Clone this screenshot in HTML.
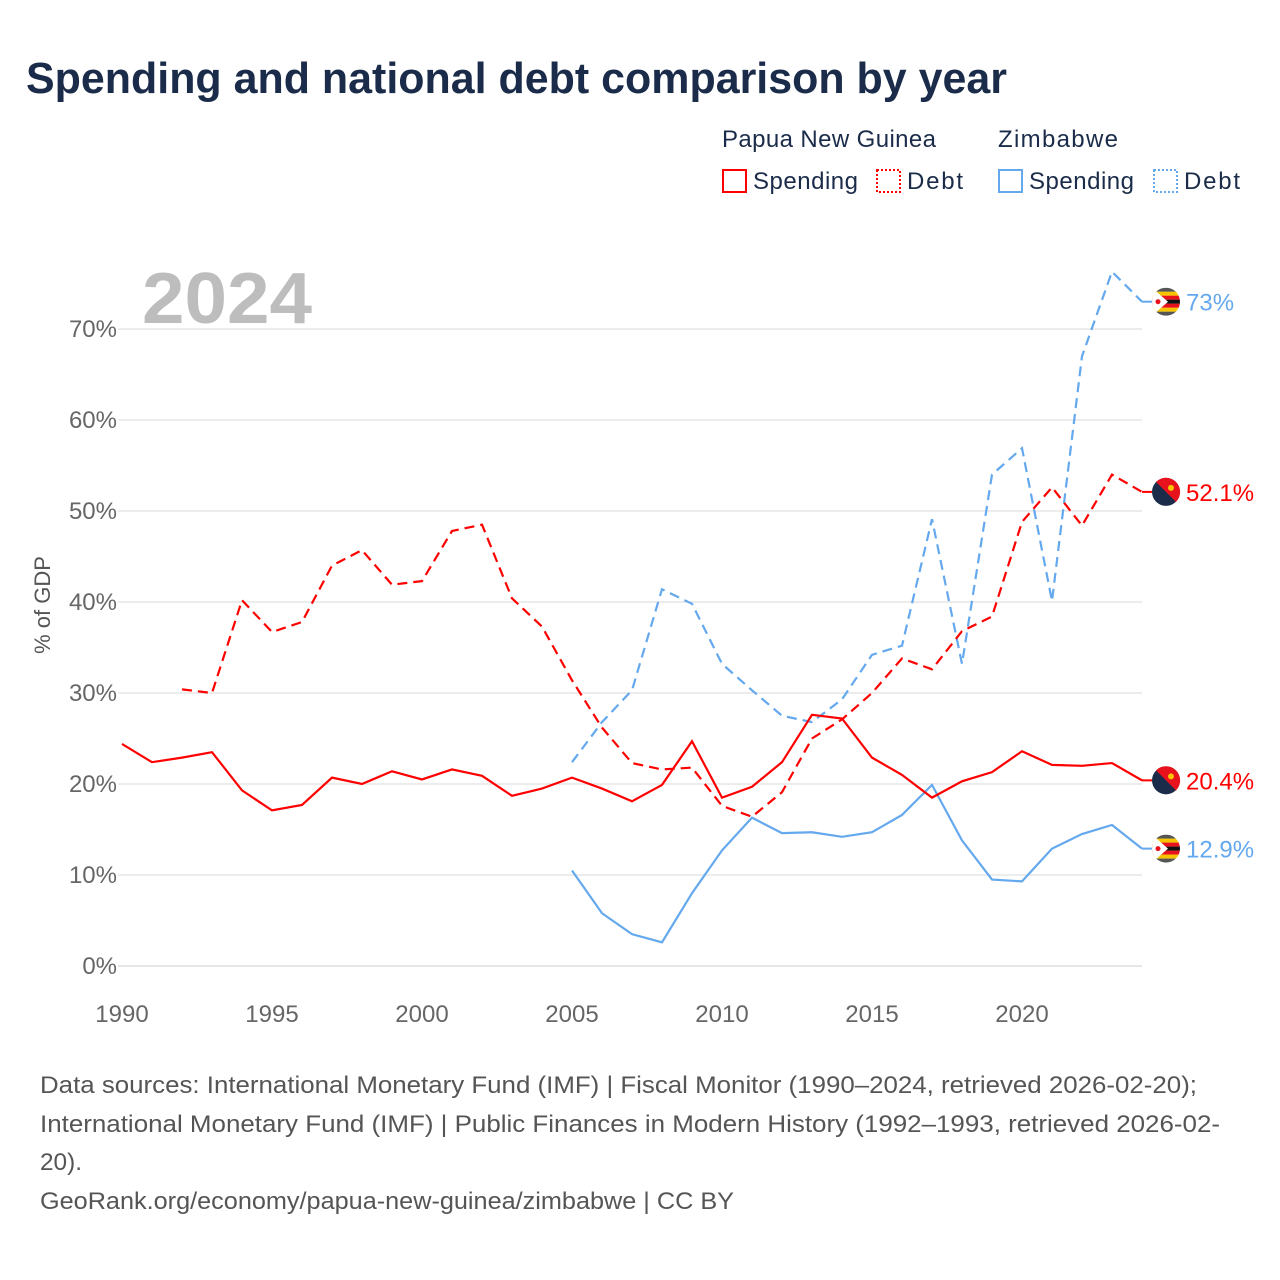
<!DOCTYPE html>
<html><head><meta charset="utf-8">
<style>
body{margin:0;background:#fff;font-family:"Liberation Sans",sans-serif;}
#wrap{position:relative;width:1280px;height:1280px;overflow:hidden;}
</style></head>
<body>
<div id="wrap">
<svg id="chart" width="1280" height="1280" xmlns="http://www.w3.org/2000/svg">
<text x="26" y="93" font-size="44" font-weight="bold" fill="#1b2c4a" textLength="981" lengthAdjust="spacingAndGlyphs">Spending and national debt comparison by year</text>
<g font-size="24" fill="#1b2c4a">
<text x="722" y="147" textLength="214">Papua New Guinea</text>
<text x="998" y="147" textLength="120">Zimbabwe</text>
<g><rect x="723" y="170" width="23" height="22" fill="none" stroke="#f00" stroke-width="2"/><text x="753" y="189" textLength="105">Spending</text></g>
<g><rect x="877" y="170" width="23" height="22" fill="none" stroke="#f00" stroke-width="2" stroke-dasharray="2,2"/><text x="907" y="189" textLength="56">Debt</text></g>
<g><rect x="999" y="170" width="23" height="22" fill="none" stroke="#64a8ee" stroke-width="2"/><text x="1029" y="189" textLength="105">Spending</text></g>
<g><rect x="1154" y="170" width="23" height="22" fill="none" stroke="#64a8ee" stroke-width="2" stroke-dasharray="2,2"/><text x="1184" y="189" textLength="56">Debt</text></g>
</g>
<text x="142" y="323" font-size="72" font-weight="bold" fill="#bdbdbd" textLength="170" lengthAdjust="spacingAndGlyphs">2024</text>
<text transform="translate(50,605) rotate(-90)" text-anchor="middle" font-size="22" fill="#555">% of GDP</text>
<g id="grid"></g><g id="series"></g><g id="ends"></g>
<g font-size="24" fill="#555">
<text x="40" y="1093" textLength="1157" lengthAdjust="spacingAndGlyphs">Data sources: International Monetary Fund (IMF) | Fiscal Monitor (1990–2024, retrieved 2026-02-20);</text>
<text x="40" y="1132" textLength="1180" lengthAdjust="spacingAndGlyphs">International Monetary Fund (IMF) | Public Finances in Modern History (1992–1993, retrieved 2026-02-</text>
<text x="40" y="1170" textLength="42" lengthAdjust="spacingAndGlyphs">20).</text>
<text x="40" y="1209" textLength="694" lengthAdjust="spacingAndGlyphs">GeoRank.org/economy/papua-new-guinea/zimbabwe | CC BY</text>
</g>
</svg>
</div>
<script>
const yTicks=[0,10,20,30,40,50,60,70];
const xTicks=[1990,1995,2000,2005,2010,2015,2020];
const pngSpendStart=1990;
const pngSpend=[24.4,22.4,22.9,23.5,19.3,17.1,17.7,20.7,20.0,21.4,20.5,21.6,20.9,18.7,19.5,20.7,19.5,18.1,19.9,24.7,18.5,19.7,22.4,27.6,27.2,22.9,21.0,18.5,20.3,21.3,23.6,22.1,22.0,22.3,20.4];
const pngDebtStart=1992;
const pngDebt=[30.4,30.0,40.2,36.7,37.8,44.0,45.7,41.9,42.3,47.8,48.5,40.4,37.3,31.4,26.2,22.3,21.6,21.8,17.6,16.4,19.1,25.0,27.1,30.0,33.8,32.6,36.8,38.4,48.8,52.6,48.4,54.0,52.1];
const zwStart=2005;
const zwSpend=[10.5,5.8,3.5,2.6,8.0,12.7,16.3,14.6,14.7,14.2,14.7,16.6,19.9,13.8,9.5,9.3,12.9,14.5,15.5,12.9];
const zwDebt=[22.4,26.8,30.3,41.4,39.8,33.2,30.3,27.5,26.8,29.3,34.2,35.2,49.1,33.2,54.0,56.9,40.1,67.0,76.3,73.0];
const endLabels=["20.4%","52.1%","12.9%","73%"];

const NS="http://www.w3.org/2000/svg";
const X=y=>122+(y-1990)*30;
const Y=v=>966-v*9.1;
function mk(t,a,p){const e=document.createElementNS(NS,t);for(const k in a)e.setAttribute(k,a[k]);p.appendChild(e);return e;}
const grid=document.getElementById('grid');
yTicks.forEach(t=>{
 const l=mk('line',{x1:118,x2:1142,y1:Y(t),y2:Y(t),stroke:t===0?'#ddd':'#e6e6e6','stroke-width':1.5},grid);
 
 
 const tx=mk('text',{x:117,y:Y(t)+8,'text-anchor':'end','font-size':24,fill:'#666'},grid);
 tx.textContent=t+'%';
 
 
});
xTicks.forEach(t=>{
 const tx=mk('text',{x:X(t),y:1022,'text-anchor':'middle','font-size':24,fill:'#666'},grid);
 tx.textContent=t;
 
 
});
const ser=document.getElementById('series');
function line(vals,start,color,dash,name){
 const d=vals.map((v,i)=>(i?'L':'M')+X(start+i)+','+Y(v)).join(' ');
 const p=mk('path',{d:d,fill:'none',stroke:color,'stroke-width':2.2,'stroke-dasharray':dash?'10,6':'none'},ser);
 
 
}
line(zwDebt,zwStart,'#64a8ee',true,'zimbabwe-debt-line');
line(zwSpend,zwStart,'#64a8ee',false,'zimbabwe-spending-line');
line(pngDebt,pngDebtStart,'#f00',true,'png-debt-line');
line(pngSpend,pngSpendStart,'#f00',false,'png-spending-line');
const ends=document.getElementById('ends');
const endVals=[pngSpend[pngSpend.length-1],pngDebt[pngDebt.length-1],zwSpend[zwSpend.length-1],zwDebt[zwDebt.length-1]];
const endCols=['#f00','#f00','#64a8ee','#64a8ee'];
const endFlag=['png','png','zw','zw'];
const endNames=['png-spending','png-debt','zimbabwe-spending','zimbabwe-debt'];
endVals.forEach((v,i)=>{
 const y=Y(v),c=endCols[i];
 const g=mk('g',{},ends);
 
 
 mk('line',{x1:1142,x2:1152,y1:y,y2:y,stroke:c,'stroke-width':2},g);
 if(endFlag[i]==='png'){
  mk('circle',{cx:1166,cy:y,r:14,fill:'#1b2c4a'},g);
  mk('path',{d:`M${1156},${y-10} A14,14 0 0 1 ${1176},${y+10} Z`,fill:'#e8121c'},g);
  mk('circle',{cx:1171,cy:y-4,r:3,fill:'#f6c400'},g);
 }else{
  const cols=['#555','#f6c400','#e8121c','#111','#e8121c','#f6c400','#555'];
  const cp=mk('clipPath',{id:'cl'+i},g);
  mk('circle',{cx:1166,cy:y,r:14},cp);
  const gg=mk('g',{'clip-path':'url(#cl'+i+')'},g);
  cols.forEach((cc,k)=>mk('rect',{x:1152,y:y-14+k*4,width:28,height:4.1,fill:cc},gg));
  mk('path',{d:`M1152,${y-14} L1168,${y} L1152,${y+14} Z`,fill:'#fff'},gg);
  mk('circle',{cx:1158,cy:y,r:2.5,fill:'#e8121c'},gg);
 }
 const t=mk('text',{x:1186,y:y+9,'font-size':24,fill:c},g);
 t.textContent=endLabels[i];
});
</script>
</body></html>
